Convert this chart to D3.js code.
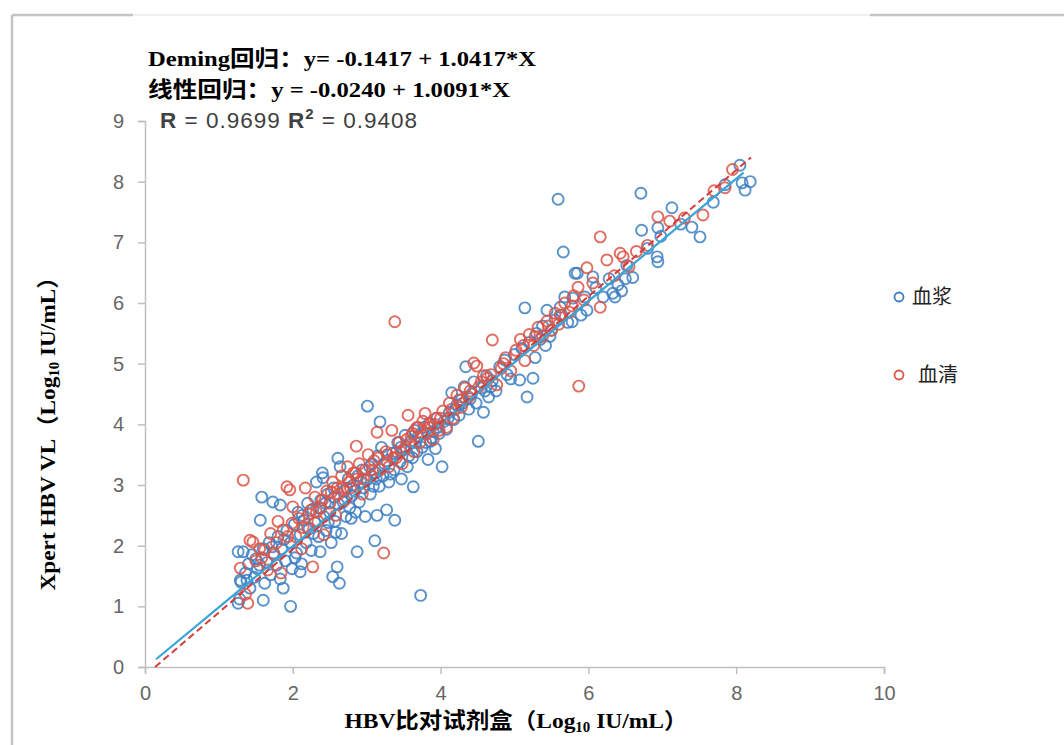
<!DOCTYPE html>
<html lang="zh">
<head>
  <meta charset="UTF-8">
  <title>HBV Deming</title>
  <script src="https://cdn.jsdelivr.net/npm/d3@7"></script>
  <style>
    body { margin: 0; background: #fff; }
    .tick text { font-family: "Liberation Sans", "Open Sans", sans-serif; }
  </style>
</head>
<body>
<script>
  // 坐标轴刻度
  const xTicks = [0, 2, 4, 6, 8, 10];
  const yTicks = [0, 1, 2, 3, 4, 5, 6, 7, 8, 9];

  // 回归方程 [截距, 斜率] 与绘制范围
  const demingCoef = [-0.1417, 1.0417];
  const demingRange = [0.136, 8.2];
  const linearCoef = [-0.0240, 1.0091];
  const linearRange = [0.15, 8.1];

  // 血浆 (x, y)
  const plasma = [
    [1.26,1.05],[1.26,1.90],[1.28,1.12],[1.29,1.43],[1.30,1.40],[1.33,1.90],[1.36,1.55],[1.38,1.43],[1.40,1.70],[1.42,1.30],
    [1.45,1.85],[1.48,1.48],[1.50,1.78],[1.52,1.62],[1.56,2.42],[1.58,2.80],[1.60,1.10],[1.60,1.95],[1.62,1.38],[1.65,1.72],
    [1.68,2.05],[1.70,1.52],[1.73,2.72],[1.74,1.88],[1.78,1.68],[1.80,2.15],[1.83,2.67],[1.83,1.45],[1.85,1.95],[1.87,1.30],
    [1.90,1.75],[1.92,2.25],[1.97,1.00],[1.97,2.05],[1.99,1.62],[1.55,1.68],[1.72,1.98],[1.88,2.10],
    [2.02,2.35],[2.05,1.88],[2.07,2.55],[2.10,1.57],[2.10,2.18],[2.12,1.70],[2.15,2.42],[2.18,2.05],[2.20,2.70],[2.22,2.28],
    [2.25,1.92],[2.27,2.60],[2.30,2.38],[2.32,3.05],[2.35,2.15],[2.37,1.90],[2.38,2.75],[2.40,3.20],[2.41,3.12],[2.42,2.48],
    [2.45,2.25],[2.47,2.85],[2.50,2.55],[2.52,2.05],[2.54,1.49],[2.55,2.95],[2.57,2.40],[2.60,1.65],[2.61,3.44],[2.62,2.68],
    [2.64,3.30],[2.63,1.38],[2.66,2.20],[2.70,2.90],[2.72,2.48],[2.75,3.10],[2.77,2.62],[2.80,2.82],[2.82,3.00],[2.85,2.55],
    [2.87,1.90],[2.88,3.15],[2.90,2.72],[2.94,3.25],[2.96,2.95],[2.98,2.48],
    [2.03,1.80],[2.13,2.50],[2.28,2.20],[2.36,2.62],[2.44,2.70],[2.48,2.38],[2.56,2.80],[2.58,2.22],[2.68,2.72],[2.73,2.95],
    [2.79,2.45],[2.84,2.90],[2.92,3.05],
    [3.00,3.08],[3.01,4.30],[3.05,2.85],[3.07,3.35],[3.11,2.08],[3.12,3.20],[3.14,2.50],[3.15,3.48],[3.17,2.98],[3.18,4.04],
    [3.20,3.62],[3.22,3.15],[3.27,2.59],[3.27,3.40],[3.30,3.05],[3.35,3.52],[3.37,3.25],[3.38,2.42],[3.42,3.70],[3.45,3.38],
    [3.47,3.10],[3.50,3.58],[3.52,3.82],[3.55,3.30],[3.60,3.72],[3.62,3.45],[3.63,2.97],[3.65,3.90],[3.68,3.55],[3.70,3.80],
    [3.73,1.18],[3.75,3.62],[3.78,3.95],[3.80,3.70],[3.83,3.42],[3.85,4.02],[3.88,3.78],[3.90,3.88],[3.93,3.60],[3.95,4.10],
    [3.98,3.85],[3.04,3.30],[3.09,2.98],[3.13,3.10],[3.24,3.35],[3.32,3.18],[3.40,3.55],[3.46,3.62],[3.57,3.48],[3.66,3.70],
    [3.74,3.85],[3.86,3.72],[3.96,3.95],
    [4.02,3.30],[4.05,4.05],[4.08,3.92],[4.12,4.20],[4.15,4.52],[4.18,4.08],[4.22,4.32],[4.25,4.15],[4.28,4.40],[4.32,4.62],
    [4.34,4.95],[4.38,4.25],[4.42,4.50],[4.45,4.70],[4.48,4.35],[4.51,3.72],[4.55,4.60],[4.58,4.20],[4.62,4.80],[4.65,4.45],
    [4.70,4.72],[4.75,4.55],[4.80,4.95],[4.87,5.06],[4.90,4.82],[4.95,4.75],[4.10,4.10],[4.20,4.25],[4.30,4.35],[4.40,4.42],
    [4.60,4.55],[4.68,4.62],
    [5.00,5.15],[5.07,4.73],[5.10,5.25],[5.14,5.92],[5.17,4.45],[5.20,5.35],[5.25,4.76],[5.28,5.10],[5.30,5.50],[5.38,5.62],
    [5.42,5.30],[5.44,5.88],[5.50,5.55],[5.55,5.72],[5.59,7.71],[5.62,5.93],[5.66,6.84],[5.68,6.10],[5.72,5.68],[5.78,5.69],
    [5.79,6.08],[5.82,6.49],[5.85,6.49],[5.90,5.80],[5.95,6.10],[5.98,5.88],[5.35,5.40],[5.48,5.45],[5.64,5.80],
    [6.06,6.43],[6.10,6.25],[6.20,6.10],[6.33,6.16],[6.36,6.10],[6.40,6.30],[6.45,6.20],[6.52,6.62],[6.60,6.42],[6.72,7.20],
    [6.71,7.81],[6.80,6.90],[6.93,6.76],[6.94,6.68],[6.94,7.24],[6.98,7.10],[6.28,6.40],[6.50,6.40],
    [7.13,7.57],[7.25,7.30],[7.40,7.25],[7.51,7.09],[7.69,7.66],[7.85,7.95],[8.05,8.27],[8.08,7.98],[8.12,7.86],[8.19,8.00]
  ];

  // 血清 (x, y)
  const serum = [
    [1.29,1.63],[1.33,3.08],[1.36,1.20],[1.39,1.05],[1.42,2.09],[1.46,2.06],[1.50,1.75],[1.55,1.95],[1.62,1.93],[1.66,1.60],
    [1.70,2.20],[1.75,1.85],[1.80,2.40],[1.84,1.55],[1.87,2.26],[1.92,2.97],[1.96,2.92],[1.99,2.37],[2.00,2.64],[2.04,2.15],
    [1.58,1.80],[1.78,2.05],[1.93,2.15],
    [2.08,2.45],[2.12,1.95],[2.17,2.95],[2.20,2.30],[2.24,2.58],[2.27,1.65],[2.30,2.80],[2.34,2.40],[2.38,2.62],[2.42,2.18],
    [2.46,2.90],[2.50,2.70],[2.54,3.05],[2.58,2.50],[2.62,2.85],[2.66,3.15],[2.70,2.75],[2.74,3.30],[2.78,2.95],[2.82,3.20],
    [2.86,3.64],[2.87,3.10],[2.90,3.35],[2.94,2.85],[2.98,3.25],[2.14,2.30],[2.22,2.52],[2.32,2.55],[2.40,2.75],[2.52,2.88],
    [2.60,2.95],[2.68,2.95],[2.76,3.05],[2.85,3.20],[2.96,3.10],
    [3.02,3.50],[3.06,3.15],[3.10,3.40],[3.14,3.87],[3.18,3.25],[3.23,1.88],[3.26,3.55],[3.30,3.30],[3.34,3.90],[3.38,5.69],
    [3.40,3.45],[3.44,3.70],[3.48,3.35],[3.52,3.62],[3.56,4.15],[3.60,3.80],[3.64,3.55],[3.68,3.95],[3.72,3.70],[3.76,4.05],
    [3.79,4.18],[3.82,3.85],[3.86,4.00],[3.90,3.75],[3.94,4.10],[3.98,3.90],[3.08,3.25],[3.16,3.45],[3.28,3.50],[3.36,3.45],
    [3.46,3.55],[3.54,3.75],[3.62,3.85],[3.70,3.95],[3.84,3.95],[3.92,4.00],
    [4.03,4.22],[4.08,3.95],[4.12,4.35],[4.17,4.10],[4.22,4.48],[4.28,4.28],[4.33,4.60],[4.38,4.45],[4.45,5.01],[4.49,4.96],
    [4.52,4.62],[4.58,4.80],[4.63,4.76],[4.70,5.39],[4.76,4.65],[4.82,4.92],[4.88,5.10],[4.95,4.88],[4.00,4.10],[4.15,4.25],
    [4.25,4.40],[4.40,4.55],[4.55,4.70],[4.68,4.82],[4.85,5.00],
    [5.02,5.22],[5.08,5.40],[5.14,5.05],[5.20,5.48],[5.26,5.30],[5.32,5.60],[5.38,5.45],[5.44,5.70],[5.50,5.55],[5.55,5.83],
    [5.60,5.65],[5.68,6.00],[5.74,5.85],[5.80,6.12],[5.86,6.26],[5.87,4.63],[5.94,6.05],[5.98,6.58],[5.12,5.30],[5.28,5.45],
    [5.46,5.62],[5.62,5.80],[5.78,5.95],
    [6.06,6.33],[6.16,7.09],[6.16,5.93],[6.25,6.71],[6.35,6.45],[6.43,6.82],[6.47,6.76],[6.55,6.60],[6.65,6.85],[6.80,6.95],
    [6.94,7.42],[7.10,7.35],[7.30,7.40],[7.55,7.45],[7.70,7.85],[7.85,7.90],[7.95,8.20]
  ];

  const legendItems = ['血浆', '血清'];
  const colors = { plasma: '#3d7fc2', serum: '#dc5446', deming: '#d63b3b', linear: '#37a5d6' };

  const width = 1064, height = 745;
  const svg = d3.select('body').append('svg').attr('width', width).attr('height', height);

  // 外框
  svg.append('line').attr('x1', 12).attr('y1', 15).attr('x2', 12).attr('y2', height).attr('stroke', '#c4c4c4').attr('stroke-width', 2.5);
  svg.append('line').attr('x1', 12).attr('y1', 15).attr('x2', 133).attr('y2', 15).attr('stroke', '#c4c4c4').attr('stroke-width', 2.5);
  svg.append('line').attr('x1', 133).attr('y1', 15).attr('x2', 870).attr('y2', 15).attr('stroke', '#f0f0f0').attr('stroke-width', 2);
  svg.append('line').attr('x1', 870).attr('y1', 15).attr('x2', width).attr('y2', 15).attr('stroke', '#c4c4c4').attr('stroke-width', 2.5);

  const x = d3.scaleLinear().domain([0, 10]).range([145, 884]);
  const y = d3.scaleLinear().domain([0, 9]).range([667, 121]);

  // x 轴
  svg.append('g')
    .attr('transform', `translate(0,${y(0)})`)
    .call(d3.axisBottom(x).tickValues(xTicks).tickSize(7).tickPadding(12))
    .call(g => g.select('.domain').attr('stroke', '#bfbfbf').attr('stroke-width', 1.5))
    .call(g => g.selectAll('.tick line').attr('stroke', '#bfbfbf').attr('stroke-width', 1.5))
    .call(g => g.selectAll('.tick text').attr('fill', '#666').style('font-size', '20px'));

  // y 轴
  svg.append('g')
    .attr('transform', `translate(${x(0)},0)`)
    .call(d3.axisLeft(y).tickValues(yTicks).tickSize(7).tickPadding(14))
    .call(g => g.select('.domain').attr('stroke', '#bfbfbf').attr('stroke-width', 1.5))
    .call(g => g.selectAll('.tick line').attr('stroke', '#bfbfbf').attr('stroke-width', 1.5))
    .call(g => g.selectAll('.tick text').attr('fill', '#666').style('font-size', '20px'));

  // 散点
  const drawPoints = (data, color) => svg.append('g').selectAll('circle')
    .data(data).join('circle')
    .attr('cx', d => x(d[0])).attr('cy', d => y(d[1])).attr('r', 5.5)
    .attr('fill', 'none').attr('stroke', color).attr('stroke-width', 1.9).attr('stroke-opacity', 0.85);
  drawPoints(plasma, colors.plasma);
  drawPoints(serum, colors.serum);

  // 回归线
  const regLine = (coef, range) => d3.line()
    .x(d => x(d)).y(d => y(coef[0] + coef[1] * d))(range);
  svg.append('path').attr('d', regLine(linearCoef, linearRange))
    .attr('fill', 'none').attr('stroke', colors.linear).attr('stroke-width', 2.2);
  svg.append('path').attr('d', regLine(demingCoef, demingRange))
    .attr('fill', 'none').attr('stroke', colors.deming).attr('stroke-width', 2)
    .attr('stroke-dasharray', '7,4');

  // 方程文字
  const serif = '"Liberation Serif", "Noto Sans CJK SC", serif';
  svg.append('text').attr('x', 148).attr('y', 66)
    .style('font-family', serif).style('font-weight', 'bold').style('font-size', '22px').attr('fill', '#000')
    .attr('textLength', 388).attr('lengthAdjust', 'spacingAndGlyphs')
    .text('Deming回归：y= -0.1417 + 1.0417*X');
  svg.append('text').attr('x', 148).attr('y', 97)
    .style('font-family', serif).style('font-weight', 'bold').style('font-size', '22px').attr('fill', '#000')
    .attr('textLength', 362).attr('lengthAdjust', 'spacingAndGlyphs')
    .text('线性回归：y = -0.0240 + 1.0091*X');
  const rText = svg.append('text').attr('x', 160).attr('y', 128)
    .style('font-family', '"Liberation Sans", Arial, sans-serif').style('font-size', '22.5px')
    .style('letter-spacing', '1px').attr('fill', '#404040');
  rText.append('tspan').style('font-weight', 'bold').text('R');
  rText.append('tspan').text(' = 0.9699 ');
  rText.append('tspan').style('font-weight', 'bold').text('R');
  rText.append('tspan').attr('dy', -9).style('font-size', '15px').style('font-weight', 'bold').text('2');
  rText.append('tspan').attr('dy', 9).text(' = 0.9408');

  // 轴标题
  const xTitle = svg.append('text').attr('x', 516).attr('y', 728).attr('text-anchor', 'middle')
    .style('font-family', serif).style('font-weight', 'bold').style('font-size', '22px').attr('fill', '#000')
    .attr('textLength', 343).attr('lengthAdjust', 'spacingAndGlyphs');
  xTitle.append('tspan').text('HBV比对试剂盒（Log');
  xTitle.append('tspan').attr('dy', 4).style('font-size', '14px').text('10');
  xTitle.append('tspan').attr('dy', -4).text(' IU/mL）');

  const yTitle = svg.append('text').attr('transform', 'translate(55,428) rotate(-90)').attr('text-anchor', 'middle')
    .style('font-family', serif).style('font-weight', 'bold').style('font-size', '22px').attr('fill', '#000')
    .attr('textLength', 325).attr('lengthAdjust', 'spacingAndGlyphs');
  yTitle.append('tspan').text('Xpert HBV VL（Log');
  yTitle.append('tspan').attr('dy', 4).style('font-size', '14px').text('10');
  yTitle.append('tspan').attr('dy', -4).text(' IU/mL）');

  // 图例
  const legend = svg.append('g');
  [[colors.plasma, 297, 912], [colors.serum, 375, 918]].forEach((c, i) => {
    legend.append('circle').attr('cx', 899).attr('cy', c[1]).attr('r', 4.5)
      .attr('fill', 'none').attr('stroke', c[0]).attr('stroke-width', 1.8);
    legend.append('text').attr('x', c[2]).attr('y', c[1] + 7)
      .style('font-family', '"Noto Sans CJK SC", sans-serif').style('font-size', '20px').attr('fill', '#222')
      .text(legendItems[i]);
  });
</script>
</body>
</html>
